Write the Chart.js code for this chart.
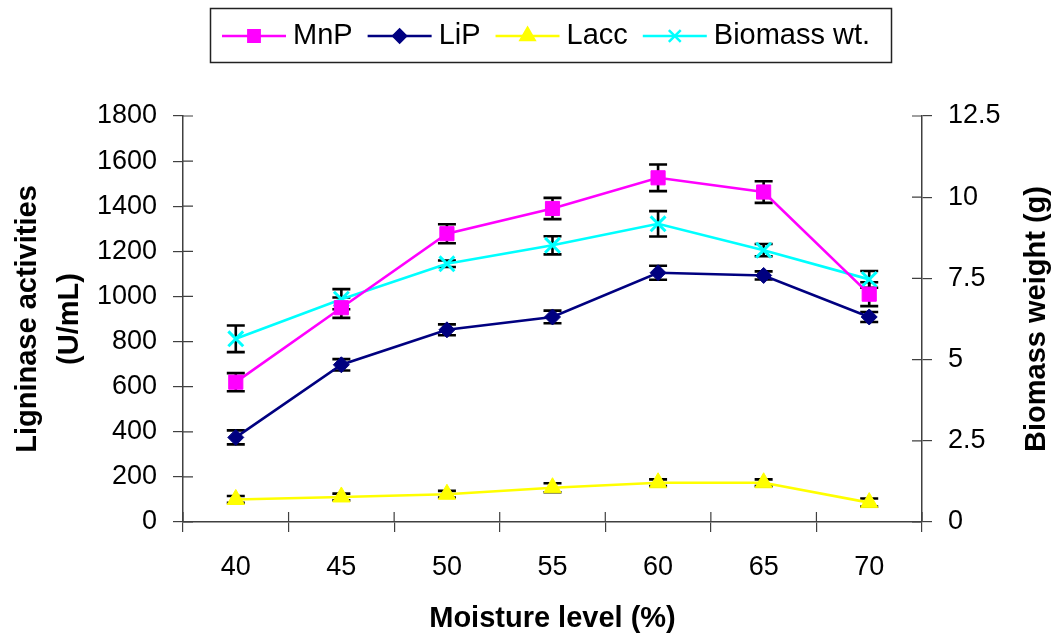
<!DOCTYPE html>
<html>
<head>
<meta charset="utf-8">
<script src="https://cdn.jsdelivr.net/npm/chart.js@4.4.1/dist/chart.umd.min.js"></script>
<style>
  body { margin: 0; background: #fff; }
  #wrap { width: 1052px; height: 636px; position: relative; }
</style>
</head>
<body>
<div id="wrap"><canvas id="moistureChart"></canvas></div>
<script>
// Moisture levels (%) on the x axis
const moistureLevels = ['40', '45', '50', '55', '60', '65', '70'];

// Ligninase activities (U/mL) - left axis
const mnpValues = [620, 950, 1278, 1390, 1526, 1463, 1010];
const mnpErrors = [40, 45, 42, 47, 59, 48, 53];
const lipValues = [375, 697, 852, 909, 1105, 1093, 909];
const lipErrors = [31, 25, 24, 28, 31, 18, 22];
const laccValues = [100, 111, 123, 152, 174, 174, 86];
const laccErrors = [15, 15, 15, 20, 15, 15, 18];

// Biomass weight (g) - right axis
const biomassValues = [5.64, 6.86, 7.95, 8.52, 9.18, 8.37, 7.47];
const biomassErrors = [0.41, 0.31, 0.1, 0.28, 0.39, 0.19, 0.26];

const FONT = '"Liberation Sans", Arial, sans-serif';
const AXIS_COLOR = '#404040';

// Error bars go under the markers
const errorBarPlugin = {
    id: 'errorBars',
    beforeDatasetsDraw(chart) {
        const ctx = chart.ctx;
        ctx.save();
        ctx.strokeStyle = '#000';
        ctx.lineWidth = 2.6;
        chart.data.datasets.forEach((ds, i) => {
            const meta = chart.getDatasetMeta(i);
            const yScale = chart.scales[ds.yAxisID];
            meta.data.forEach((pt, j) => {
                const top = yScale.getPixelForValue(ds.data[j] + ds.errors[j]);
                const bot = yScale.getPixelForValue(ds.data[j] - ds.errors[j]);
                const x = pt.x;
                ctx.beginPath();
                ctx.moveTo(x, top); ctx.lineTo(x, bot);
                ctx.moveTo(x - 9, top); ctx.lineTo(x + 9, top);
                ctx.moveTo(x - 9, bot); ctx.lineTo(x + 9, bot);
                ctx.stroke();
            });
        });
        ctx.restore();
    }
};

// Excel style ticks that cross the axis line (inner half)
const innerTicksPlugin = {
    id: 'innerTicks',
    afterDraw(chart) {
        const ctx = chart.ctx;
        const { x, y, y1 } = chart.scales;
        ctx.save();
        ctx.strokeStyle = AXIS_COLOR;
        ctx.lineWidth = 1.2;
        ctx.beginPath();
        y.ticks.forEach(t => {
            const py = y.getPixelForValue(t.value);
            ctx.moveTo(y.right, py); ctx.lineTo(y.right + 10, py);
        });
        y1.ticks.forEach(t => {
            const py = y1.getPixelForValue(t.value);
            ctx.moveTo(y1.left, py); ctx.lineTo(y1.left - 10, py);
        });
        const n = moistureLevels.length;
        for (let i = 0; i <= n; i++) {
            const px = x.left + i * x.width / n;
            ctx.moveTo(px, x.top); ctx.lineTo(px, x.top - 10);
        }
        ctx.stroke();
        ctx.restore();
    }
};

// Right axis title reads bottom-to-top, like the left one
const rightTitlePlugin = {
    id: 'rightTitle',
    afterDraw(chart) {
        const ctx = chart.ctx;
        const area = chart.chartArea;
        ctx.save();
        ctx.translate(1037, (area.top + area.bottom) / 2);
        ctx.rotate(-Math.PI / 2);
        ctx.font = 'bold 29px ' + FONT;
        ctx.fillStyle = '#000';
        ctx.textAlign = 'center';
        ctx.textBaseline = 'middle';
        ctx.fillText('Biomass weight (g)', 0, 0);
        ctx.restore();
    }
};

// Boxed legend at the top: line with marker, then label
const boxLegendPlugin = {
    id: 'boxLegend',
    afterDraw(chart) {
        const ctx = chart.ctx;
        ctx.save();
        ctx.strokeStyle = '#222';
        ctx.lineWidth = 1.5;
        ctx.strokeRect(210.5, 8.5, 681, 54);
        ctx.font = '29px ' + FONT;
        ctx.textBaseline = 'middle';
        const cy = 36;
        let cx = 222;
        chart.data.datasets.forEach(ds => {
            ctx.strokeStyle = ds.borderColor;
            ctx.fillStyle = ds.backgroundColor;
            ctx.lineWidth = 2.5;
            ctx.beginPath();
            ctx.moveTo(cx, cy); ctx.lineTo(cx + 64, cy);
            ctx.stroke();
            Chart.helpers.drawPoint(ctx, {
                pointStyle: ds.pointStyle,
                radius: ds.pointRadius * 0.8,
                rotation: 0,
                borderWidth: ds.pointBorderWidth
            }, cx + 32, cy);
            ctx.fillStyle = '#000';
            ctx.fillText(ds.label, cx + 71, cy);
            cx += 71 + ctx.measureText(ds.label).width + 15;
        });
        ctx.restore();
    }
};

const makeSeries = (label, data, errors, color, style, radius, axis, bw) => ({
    label,
    data,
    errors,
    yAxisID: axis,
    borderColor: color,
    backgroundColor: color,
    borderWidth: 2.6,
    pointStyle: style,
    pointRadius: radius,
    pointBorderWidth: bw,
    pointBackgroundColor: color,
    pointBorderColor: color,
    tension: 0,
    clip: false
});

const initChart = () => {
    const ctx = document.getElementById('moistureChart').getContext('2d');
    new Chart(ctx, {
        type: 'line',
        data: {
            labels: moistureLevels,
            datasets: [
                makeSeries('MnP', mnpValues, mnpErrors, '#FF00FF', 'rect', 10, 'y', 1),
                makeSeries('LiP', lipValues, lipErrors, '#000080', 'rectRot', 8, 'y', 1),
                makeSeries('Lacc', laccValues, laccErrors, '#FFFF00', 'triangle', 10, 'y', 1),
                makeSeries('Biomass wt.', biomassValues, biomassErrors, '#00FFFF', 'crossRot', 10.5, 'y1', 3)
            ]
        },
        options: {
            responsive: true,
            maintainAspectRatio: false,
            animation: false,
            layout: { padding: { top: 116, left: 0, right: 0, bottom: 0 } },
            plugins: {
                legend: { display: false },
                tooltip: { enabled: false }
            },
            scales: {
                x: {
                    type: 'category',
                    offset: true,
                    grid: { drawOnChartArea: false, offset: true, tickLength: 10, color: AXIS_COLOR, lineWidth: 1.2 },
                    border: { color: AXIS_COLOR, width: 1.5 },
                    ticks: { color: '#000', font: { family: FONT, size: 27 }, padding: 19, maxRotation: 0 },
                    title: {
                        display: true,
                        text: 'Moisture level (%)',
                        color: '#000',
                        font: { family: FONT, size: 29, weight: 'bold' },
                        padding: { top: 0, bottom: 0 }
                    },
                    afterFit: (s) => { s.height = 114; }
                },
                y: {
                    position: 'left',
                    min: 0,
                    max: 1800,
                    grid: { drawOnChartArea: false, tickLength: 10, color: AXIS_COLOR, lineWidth: 1.2 },
                    border: { color: AXIS_COLOR, width: 1.5 },
                    ticks: {
                        stepSize: 200,
                        color: '#000',
                        font: { family: FONT, size: 27 },
                        padding: 16,
                        callback: (v) => String(v)
                    },
                    title: {
                        display: true,
                        text: ['Ligninase activities', '(U/mL)'],
                        color: '#000',
                        font: { family: FONT, size: 29, weight: 'bold', lineHeight: '42px' },
                        padding: { top: 7, bottom: 0 }
                    },
                    afterFit: (s) => { s.width = 183; }
                },
                y1: {
                    position: 'right',
                    min: 0,
                    max: 12.5,
                    grid: { drawOnChartArea: false, tickLength: 10, color: AXIS_COLOR, lineWidth: 1.2 },
                    border: { color: AXIS_COLOR, width: 1.5 },
                    ticks: {
                        stepSize: 2.5,
                        color: '#000',
                        font: { family: FONT, size: 27 },
                        padding: 16
                    },
                    afterFit: (s) => { s.width = 130; }
                }
            }
        },
        plugins: [errorBarPlugin, innerTicksPlugin, rightTitlePlugin, boxLegendPlugin]
    });
};

document.addEventListener('DOMContentLoaded', initChart);
</script>
</body>
</html>
